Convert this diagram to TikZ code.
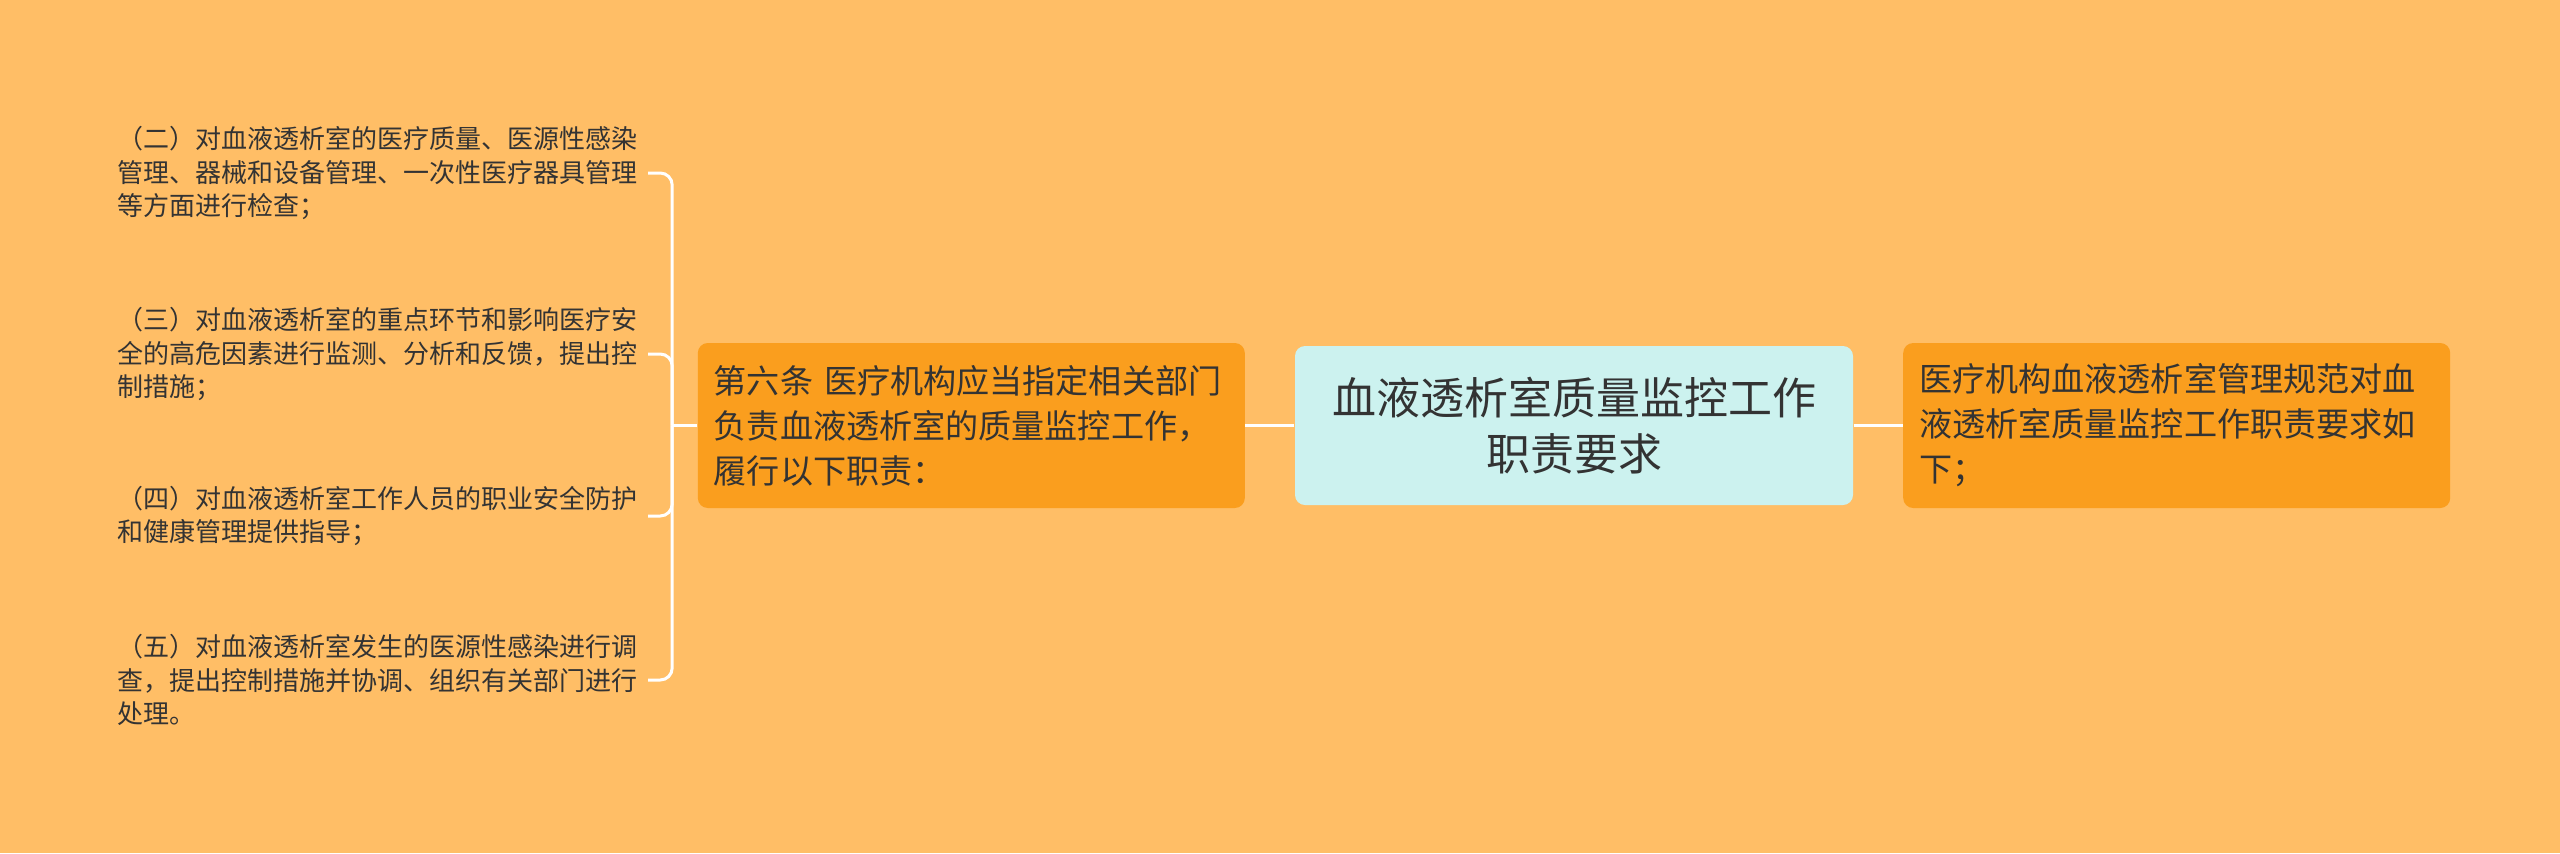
\documentclass[tikz,border=0pt]{standalone}
\usepackage{fontspec}
\newfontfamily\cjk{Noto Sans CJK SC}
\usetikzlibrary{positioning}
\definecolor{bgorange}{HTML}{FFBE66}
\definecolor{boxorange}{HTML}{FA9E1E}
\definecolor{topcyan}{HTML}{CCF2EF}
\definecolor{inkdark}{HTML}{333333}

\begin{document}
\begin{tikzpicture}[node distance=24.5pt, semithick]
	\tikzstyle{topic}=[fill=topcyan, rounded corners=5pt, align=center, text=inkdark,
		minimum width=279pt, minimum height=79.5pt, font=\cjk\fontsize{22pt}{27.8pt}\selectfont]
	\tikzstyle{branch}=[fill=boxorange, rounded corners=5pt, align=left, text=inkdark,
		text width=257.5pt, inner xsep=8pt, minimum height=82.5pt, font=\cjk\fontsize{16.55pt}{22.5pt}\selectfont]
	\tikzstyle{leaf}=[align=left, text=inkdark, text width=260pt, inner xsep=5pt,
		font=\cjk\fontsize{13pt}{16.75pt}\selectfont]
	\tikzstyle{link}=[draw=white, line width=1.5pt, rounded corners=6pt]

	\fill[bgorange] (0,0) rectangle (1280pt,-426.5pt);
	\useasboundingbox (0,0) rectangle (1280pt,-426.5pt);

	\node[topic]  (cbox) at (787pt,-212.75pt) {血液透析室质量监控工作\\职责要求};
	\node[branch] (lbox) [left=of cbox]  {第六条 医疗机构应当指定相关部门\\负责血液透析室的质量监控工作，\\履行以下职责：};
	\node[branch] (rbox) [right=of cbox] {医疗机构血液透析室管理规范对血\\液透析室质量监控工作职责要求如\\下；};

	\node[leaf] (l1) [left=of lbox, yshift=126.25pt] {（二）对血液透析室的医疗质量、医源性感染\\管理、器械和设备管理、一次性医疗器具管理\\等方面进行检查；};
	\node[leaf] (l2) [left=of lbox, yshift=35.75pt]  {（三）对血液透析室的重点环节和影响医疗安\\全的高危因素进行监测、分析和反馈，提出控\\制措施；};
	\node[leaf] (l3) [left=of lbox, yshift=-45.25pt] {（四）对血液透析室工作人员的职业安全防护\\和健康管理提供指导；};
	\node[leaf] (l4) [left=of lbox, yshift=-127.25pt] {（五）对血液透析室发生的医源性感染进行调\\查，提出控制措施并协调、组织有关部门进行\\处理。};

	\coordinate[left=12.5pt of lbox] (hub);

	\draw[link] (cbox) -- (lbox);
	\draw[link] (cbox) -- (rbox);
	\draw[link] (lbox.west) -- (hub);
	\foreach \leaf in {l1,l2,l3,l4}
		\draw[link] (\leaf.east) -| (hub);
\end{tikzpicture}
\end{document}
